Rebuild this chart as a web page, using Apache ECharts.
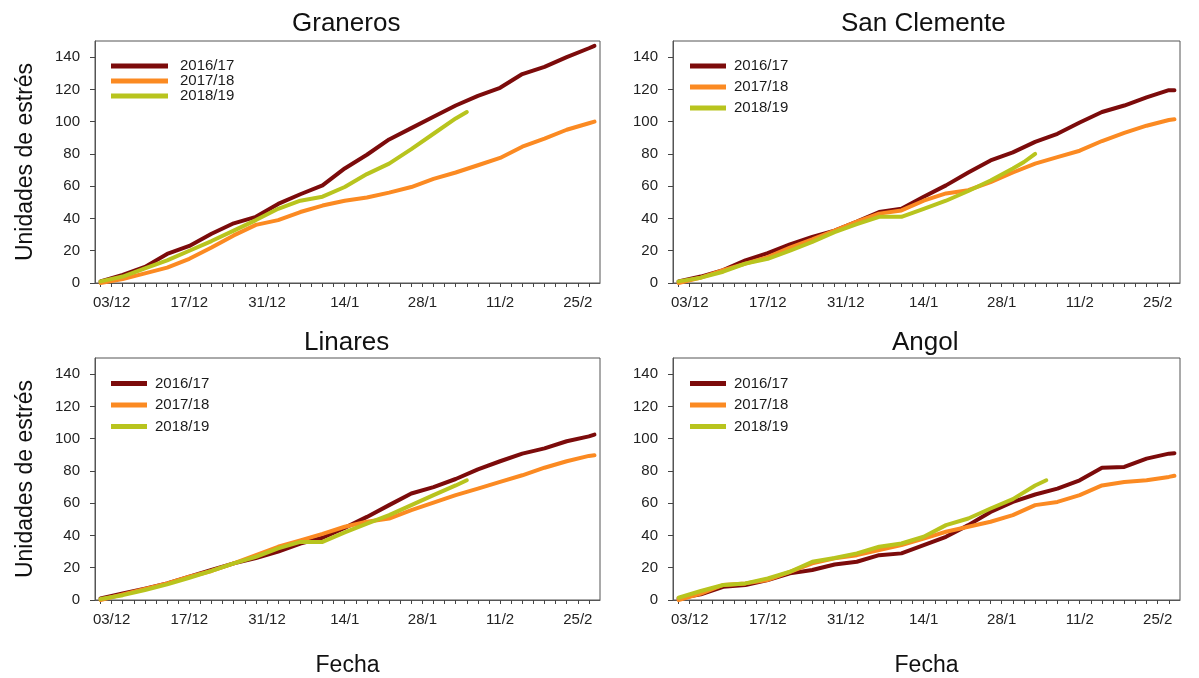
<!DOCTYPE html>
<html>
<head>
<meta charset="utf-8">
<script src="https://cdn.jsdelivr.net/npm/echarts@6/dist/echarts.min.js"></script>
<style>
  html, body { margin: 0; padding: 0; background: #fff; }
  #chart { width: 1199px; height: 678px; }
</style>
</head>
<body>
<div id="chart"></div>
<script>
// temporadas y paneles
const seasons = ["2016/17", "2017/18", "2018/19"];
const stations = ["Graneros", "San Clemente", "Linares", "Angol"];

// días desde el 03/12
const seasonDays = [-2, 2, 6, 10, 14, 18, 22, 26, 30, 34, 38, 42, 46, 50, 54, 58, 62, 66, 70, 74, 78, 82, 86, 87];
const lastDays = [-2, 2, 6, 10, 14, 18, 22, 26, 30, 34, 38, 42, 46, 50, 54, 58, 62, 64];
const lastDaysSanClemente = [-2, 2, 6, 10, 14, 18, 22, 26, 30, 34, 38, 42, 46, 50, 54, 58, 60, 62];

// etiquetas del eje x
const xTickDays = [0, 14, 28, 42, 56, 70, 84];
const xTickLabels = ["03/12", "17/12", "31/12", "14/1", "28/1", "11/2", "25/2"];
const yTickValues = [0, 20, 40, 60, 80, 100, 120, 140];

// unidades de estrés acumuladas
const graneros1617 = [1, 5, 10, 18, 23, 30.5, 37, 41, 49, 55, 60.5, 71, 79.5, 89, 96, 103, 110, 116, 121, 129.5, 134, 140, 145.5, 147];
const graneros1718 = [0, 2.5, 6, 9.5, 15, 22, 29.5, 36, 39, 44, 48, 51, 53, 56, 59.5, 64.5, 68.5, 73, 77.5, 84.5, 89.5, 95, 99, 100];
const graneros1819 = [1, 4, 9, 14, 20, 26, 32.5, 39, 46, 51, 53.5, 59.5, 67.5, 74, 83, 92.5, 102, 106];

const sanClemente1617 = [1, 4, 8, 14, 18.5, 24, 28.5, 32.5, 38, 44, 46, 53.5, 60.5, 68.5, 76, 81, 87.5, 92.5, 99.5, 106, 110, 115, 119.5, 119.5];
const sanClemente1718 = [0, 3.3, 8, 12, 16, 22, 27, 32.5, 38, 43, 45, 51, 55.5, 57.5, 62.5, 68.5, 74, 78, 82, 88, 93, 97.5, 101, 101.5];
const sanClemente1819 = [1, 3.3, 7, 12, 15, 20, 25.5, 31.5, 36.5, 41, 41, 46, 51, 57, 63.5, 71, 75, 80];

const linares1617 = [1, 4, 7, 10.3, 14.4, 18.6, 22.7, 26, 30, 35, 38.6, 44.7, 51.5, 58.8, 66, 70, 75, 81, 86, 90.7, 94, 98.4, 101.4, 102.5];
const linares1718 = [0, 3.5, 6.8, 10.3, 14.4, 18, 22.7, 27.8, 33, 37, 41, 45.4, 48.5, 50.5, 55.7, 60.4, 65, 69, 73.2, 77.3, 82, 86, 89.3, 89.7];
const linares1819 = [0.6, 3, 6.2, 9.7, 13.8, 18, 22.7, 26.8, 32, 36, 36, 41.9, 47.4, 52.6, 58.8, 65, 71, 74.2];

const angol1617 = [1, 3.5, 8.2, 9.3, 12.4, 16.5, 18.6, 22, 23.7, 27.8, 28.9, 34, 39.2, 46.4, 54.6, 60.8, 65.4, 69, 74.2, 82, 82.5, 87.6, 90.7, 91];
const angol1718 = [0, 4, 9.3, 10.3, 12.4, 17.5, 22.7, 25.8, 27.8, 31, 34, 38, 42.3, 45.4, 48.5, 52.6, 58.8, 60.8, 65, 71, 73.2, 74.2, 76.3, 77];
const angol1819 = [1.4, 5.6, 9.3, 10.3, 13.4, 17.5, 23.7, 26, 28.9, 33, 35, 39.2, 46.4, 50.5, 56.7, 62.5, 71, 74.2];

document.addEventListener("DOMContentLoaded", function () {
    let chart = echarts.init(document.getElementById("chart"));
    const font = "'Liberation Sans', Arial, sans-serif";
    const colors = ["#7c0b0b", "#fb8a22", "#b8c41e"];

    const panelValues = [
        [graneros1617, graneros1718, graneros1819],
        [sanClemente1617, sanClemente1718, sanClemente1819],
        [linares1617, linares1718, linares1819],
        [angol1617, angol1718, angol1819]
    ];
    const panelDays = [
        [seasonDays, seasonDays, lastDays],
        [seasonDays, seasonDays, lastDaysSanClemente],
        [seasonDays, seasonDays, lastDays],
        [seasonDays, seasonDays, lastDays]
    ];

    // posiciones de cada panel
    const grids = [
        { left: 95, top: 41, width: 505, height: 242 },
        { left: 673, top: 41, width: 507, height: 242 },
        { left: 95, top: 358, width: 505, height: 243 },
        { left: 673, top: 358, width: 507, height: 243 }
    ];
    const titlePos = [[292, 11], [841, 11], [304, 330], [892, 330]];
    const legendPos = [
        { left: 111, top: 58.5, itemWidth: 57, itemGap: 0, pad: 7 },
        { left: 690, top: 58.5, itemWidth: 36, itemGap: 6, pad: 3 },
        { left: 111, top: 376, itemWidth: 36, itemGap: 6.5, pad: 3 },
        { left: 690, top: 376, itemWidth: 36, itemGap: 6.5, pad: 3 }
    ];

    const minorTicks = [];
    for (let d = -2; d <= 86; d += 2) minorTicks.push(d);

    const labelMap = {};
    xTickDays.forEach((d, i) => { labelMap[d] = xTickLabels[i]; });

    const series = [];
    panelValues.forEach((vals, p) => {
        vals.forEach((v, s) => {
            series.push({
                name: seasons[s],
                type: "line",
                xAxisIndex: p,
                yAxisIndex: p,
                showSymbol: false,
                silent: true,
                data: panelDays[p][s].map((d, k) => [d, v[k]]),
                lineStyle: { color: colors[s], width: 4, cap: "round", join: "round" },
                itemStyle: { color: colors[s] }
            });
        });
    });

    const option = {
        backgroundColor: "#fff",
        animation: false,
        textStyle: { fontFamily: font },
        title: stations.map((name, p) => ({
            text: name,
            left: titlePos[p][0],
            top: titlePos[p][1],
            padding: 0,
            textStyle: { fontSize: 26, fontWeight: "normal", color: "#111", fontFamily: font }
        })),
        legend: legendPos.map(l => ({
            data: seasons,
            orient: "vertical",
            left: l.left,
            top: l.top,
            padding: 0,
            icon: "rect",
            itemWidth: l.itemWidth,
            itemHeight: 5,
            itemGap: l.itemGap,
            selectedMode: false,
            textStyle: { fontSize: 15, lineHeight: 15, color: "#1a1a1a", fontFamily: font, padding: [0, 0, 0, l.pad] }
        })),
        grid: grids.map(g => ({
            left: g.left, top: g.top, width: g.width, height: g.height,
            show: true, borderColor: "#555", borderWidth: 1, backgroundColor: "#fff"
        })),
        xAxis: grids.map((g, p) => ({
            type: "value",
            gridIndex: p,
            min: -3,
            max: 88,
            name: p >= 2 ? "Fecha" : "",
            nameLocation: "middle",
            nameGap: 54,
            nameTextStyle: { fontSize: 23, color: "#111", fontFamily: font },
            splitLine: { show: false },
            axisLine: { onZero: false, lineStyle: { color: "#555", width: 1 } },
            axisTick: { customValues: minorTicks, length: 4, lineStyle: { color: "#444" } },
            axisLabel: {
                customValues: xTickDays,
                formatter: v => labelMap[v] || "",
                fontSize: 15,
                color: "#222",
                margin: 12,
                fontFamily: font
            }
        })),
        yAxis: grids.map((g, p) => ({
            type: "value",
            gridIndex: p,
            min: 0,
            max: 150,
            name: p % 2 === 0 ? "Unidades de estrés" : "",
            nameLocation: "middle",
            nameRotate: 90,
            nameGap: 58,
            nameTextStyle: { fontSize: 23, color: "#111", fontFamily: font },
            splitLine: { show: false },
            axisLine: { show: true, onZero: false, lineStyle: { color: "#555", width: 1 } },
            axisTick: { customValues: yTickValues, length: 5, lineStyle: { color: "#444" } },
            axisLabel: { customValues: yTickValues, fontSize: 15, color: "#222", margin: 15, fontFamily: font }
        })),
        series: series
    };

    chart.setOption(option);

    window.addEventListener("resize", function () {
        chart.resize();
    });
});
</script>
</body>
</html>
